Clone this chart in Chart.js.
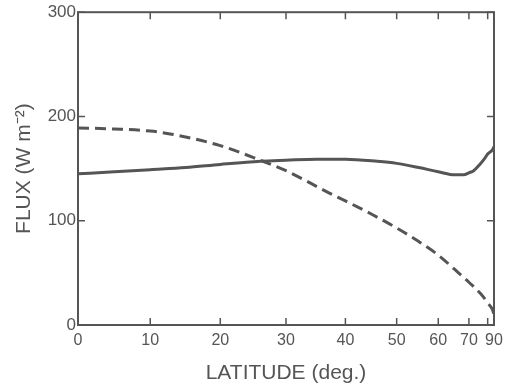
<!DOCTYPE html>
<html>
<head>
<meta charset="utf-8">
<script src="https://cdn.jsdelivr.net/npm/chart.js@4"></script>
<style>
  html, body { margin: 0; padding: 0; background: #fff; }
  #wrap { width: 510px; height: 390px; }
</style>
</head>
<body>
<div id="wrap"><canvas id="c" width="510" height="390"></canvas></div>
<script>
// latitude ticks (axis is area-weighted: sin of latitude)
const latTicks = [0, 10, 20, 30, 40, 50, 60, 70, 80, 90];
const latTickLabels = ['0', '10', '20', '30', '40', '50', '60', '70', '', '90'];
const yTicks = [0, 100, 200, 300];

// solid curve
const solidLat  = [0, 5, 10, 15, 20, 26, 30, 35, 40, 46, 50, 55, 60, 65, 68, 70, 72, 75, 78, 80, 85, 90];
const solidFlux = [145, 147, 149, 151, 154, 157, 158, 159, 159, 157, 155, 151, 147, 144, 144, 146, 148, 154, 160, 164, 168, 171];

// dashed curve
const dashLat  = [0, 5, 10, 13, 20, 26, 30, 37, 40, 45, 50, 55, 60, 65, 70, 77, 80, 85, 90];
const dashFlux = [189, 188, 186, 183, 172, 158, 148, 127, 119, 106, 93, 80, 67, 53, 41, 27, 21, 15, 10];

const ink = '#555';
const sinDeg = d => Math.sin(d * Math.PI / 180);
const pts = (lat, v) => lat.map((l, i) => ({ x: sinDeg(l), y: v[i] }));

// frame + inward ticks on all four sides
const frameTicks = {
    id: 'frameTicks',
    afterDraw(chart) {
        const { ctx, chartArea: a, scales } = chart;
        ctx.save();
        ctx.strokeStyle = ink;
        ctx.lineWidth = 2;
        ctx.strokeRect(a.left, a.top, a.right - a.left, a.bottom - a.top);
        ctx.lineWidth = 1.5;
        ctx.beginPath();
        latTicks.forEach(l => {
            const x = scales.x.getPixelForValue(sinDeg(l));
            ctx.moveTo(x, a.bottom); ctx.lineTo(x, a.bottom - 7);
            ctx.moveTo(x, a.top); ctx.lineTo(x, a.top + 7);
        });
        yTicks.forEach(v => {
            const y = scales.y.getPixelForValue(v);
            ctx.moveTo(a.left, y); ctx.lineTo(a.left + 7, y);
            ctx.moveTo(a.right, y); ctx.lineTo(a.right - 7, y);
        });
        ctx.stroke();
        ctx.restore();
    }
};

new Chart(document.getElementById('c'), {
    type: 'line',
    data: {
        datasets: [
            { data: pts(solidLat, solidFlux), borderColor: ink, borderWidth: 3, pointRadius: 0, tension: 0.4, cubicInterpolationMode: 'monotone' },
            { data: pts(dashLat, dashFlux), borderColor: ink, borderWidth: 3, borderDash: [11, 6], pointRadius: 0, tension: 0.4, cubicInterpolationMode: 'monotone' }
        ]
    },
    options: {
        responsive: false,
        animation: false,
        layout: { padding: { top: 10, right: 16, left: 0, bottom: 0 } },
        plugins: { legend: { display: false }, tooltip: { enabled: false } },
        scales: {
            x: {
                type: 'linear', min: 0, max: 1,
                afterBuildTicks: s => { s.ticks = latTicks.map(l => ({ value: sinDeg(l) })); },
                afterFit: s => { s.height = 65; },
                grid: { display: false, drawTicks: false },
                border: { display: false },
                ticks: {
                    autoSkip: false, maxRotation: 0, padding: 6, color: ink,
                    font: { family: 'Liberation Sans', size: 16 },
                    callback: (v, i) => latTickLabels[i]
                },
                title: { display: true, text: 'LATITUDE (deg.)', color: ink, padding: { top: 8 },
                    font: { family: 'Liberation Sans', size: 21 } }
            },
            y: {
                min: 0, max: 300,
                afterBuildTicks: s => { s.ticks = yTicks.map(v => ({ value: v })); },
                afterFit: s => { s.width = 78; },
                grid: { display: false, drawTicks: false },
                border: { display: false },
                ticks: { padding: 2, color: ink, font: { family: 'Liberation Sans', size: 17 } },
                title: { display: true, text: 'FLUX (W m⁻²)', color: ink, padding: { top: 12, bottom: 0 },
                    font: { family: 'Liberation Sans', size: 21 } }
            }
        }
    },
    plugins: [frameTicks]
});
</script>
</body>
</html>
